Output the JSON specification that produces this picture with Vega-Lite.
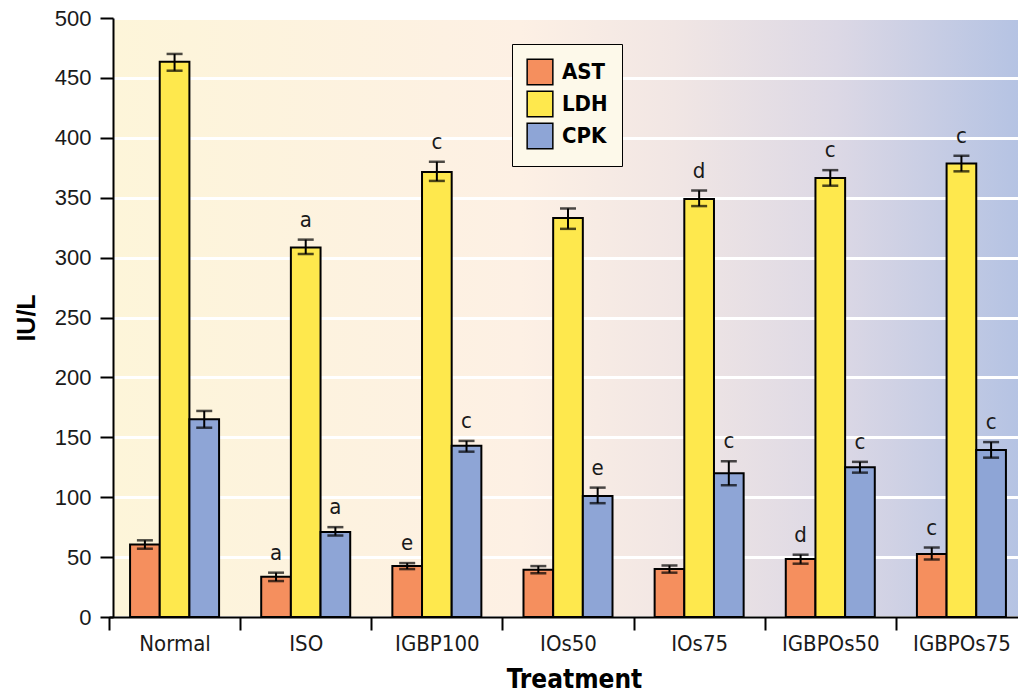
{
  "$schema": "https://vega.github.io/schema/vega-lite/v6.json",
  "autosize": "none",
  "width": 905,
  "height": 599,
  "padding": {"left": 113, "top": 18, "right": 0, "bottom": 79},
  "background": "white",
  "config": {
    "view": {
      "stroke": null,
      "fill": {"gradient": "linear", "x1": 0, "y1": 0, "x2": 1, "y2": 0,
        "stops": [
          {"offset": 0, "color": "#fdf5d9"},
          {"offset": 0.45, "color": "#fdf0e4"},
          {"offset": 0.62, "color": "#f1e6e4"},
          {"offset": 0.8, "color": "#dcd8e5"},
          {"offset": 1, "color": "#b5c3e3"}
        ]}
    }
  },
  "data": {"values": [
    {"treatment": "Normal", "enzyme": "AST", "value": 60.5, "lo": 57, "hi": 64, "letter": ""},
    {"treatment": "Normal", "enzyme": "LDH", "value": 463.5, "lo": 456, "hi": 470, "letter": ""},
    {"treatment": "Normal", "enzyme": "CPK", "value": 165, "lo": 158, "hi": 172, "letter": ""},
    {"treatment": "ISO", "enzyme": "AST", "value": 33.5, "lo": 30, "hi": 37, "letter": "a"},
    {"treatment": "ISO", "enzyme": "LDH", "value": 308.5, "lo": 303, "hi": 315, "letter": "a"},
    {"treatment": "ISO", "enzyme": "CPK", "value": 71, "lo": 68, "hi": 75, "letter": "a"},
    {"treatment": "IGBP100", "enzyme": "AST", "value": 42.5, "lo": 40, "hi": 45, "letter": "e"},
    {"treatment": "IGBP100", "enzyme": "LDH", "value": 371.5, "lo": 364, "hi": 380, "letter": "c"},
    {"treatment": "IGBP100", "enzyme": "CPK", "value": 143, "lo": 138, "hi": 147, "letter": "c"},
    {"treatment": "IOs50", "enzyme": "AST", "value": 39.5, "lo": 36.5, "hi": 42.5, "letter": ""},
    {"treatment": "IOs50", "enzyme": "LDH", "value": 333, "lo": 324, "hi": 341, "letter": ""},
    {"treatment": "IOs50", "enzyme": "CPK", "value": 101, "lo": 95, "hi": 108, "letter": "e"},
    {"treatment": "IOs75", "enzyme": "AST", "value": 40, "lo": 37, "hi": 43, "letter": ""},
    {"treatment": "IOs75", "enzyme": "LDH", "value": 349, "lo": 343, "hi": 356, "letter": "d"},
    {"treatment": "IOs75", "enzyme": "CPK", "value": 120, "lo": 110, "hi": 130, "letter": "c"},
    {"treatment": "IGBPOs50", "enzyme": "AST", "value": 48.5, "lo": 44.5, "hi": 52, "letter": "d"},
    {"treatment": "IGBPOs50", "enzyme": "LDH", "value": 366.5, "lo": 360, "hi": 373, "letter": "c"},
    {"treatment": "IGBPOs50", "enzyme": "CPK", "value": 125, "lo": 120.5, "hi": 129.5, "letter": "c"},
    {"treatment": "IGBPOs75", "enzyme": "AST", "value": 52.5, "lo": 48, "hi": 58, "letter": "c"},
    {"treatment": "IGBPOs75", "enzyme": "LDH", "value": 378.5, "lo": 372, "hi": 385, "letter": "c"},
    {"treatment": "IGBPOs75", "enzyme": "CPK", "value": 139.5, "lo": 133, "hi": 146, "letter": "c"}
  ]},
  "encoding": {
    "x": {
      "field": "treatment", "type": "nominal",
      "sort": ["Normal", "ISO", "IGBP100", "IOs50", "IOs75", "IGBPOs50", "IGBPOs75"],
      "scale": {"paddingInner": 0, "paddingOuter": 0, "range": [-4, 914]},
      "axis": {
        "title": "Treatment", "labelAngle": 0,
        "labelFont": "DejaVu Sans Condensed, sans-serif",
        "labelFontSize": 22, "labelColor": "#1a1a1a", "labelPadding": 3,
        "tickBand": "extent", "tickSize": 13, "tickColor": "black", "tickWidth": 2,
        "domainColor": "black", "domainWidth": 2,
        "titleFont": "DejaVu Sans Condensed, sans-serif", "titleX": 461,
        "titleFontSize": 26, "titleFontWeight": "bold", "titleColor": "black", "titlePadding": 12
      }
    },
    "xOffset": {"field": "enzyme", "type": "nominal", "sort": ["AST", "LDH", "CPK"], "scale": {"paddingInner": 0, "paddingOuter": 0.71}}
  },
  "layer": [
    {
      "mark": {"type": "bar", "stroke": "black", "strokeWidth": 2},
      "encoding": {
        "y": {
          "field": "value", "type": "quantitative",
          "scale": {"domain": [0, 500], "nice": false},
          "axis": {
            "title": "IU/L", "values": [0, 50, 100, 150, 200, 250, 300, 350, 400, 450, 500],
            "labelFont": "Liberation Sans", "labelFontSize": 22, "labelColor": "#1a1a1a", "labelPadding": 9,
            "tickSize": 13, "tickColor": "black", "tickWidth": 2,
            "domainColor": "black", "domainWidth": 2,
            "grid": true, "gridColor": "white", "gridWidth": 3,
            "titleFont": "Liberation Sans", "titleFontSize": 25, "titleFontWeight": "bold",
            "titleColor": "black", "titlePadding": 15
          }
        },
        "fill": {
          "field": "enzyme", "type": "nominal",
          "scale": {"domain": ["AST", "LDH", "CPK"], "range": ["#f58f5e", "#fee84d", "#8ea5d6"]},
          "legend": {
            "title": null, "orient": "none", "legendX": 399, "legendY": 26,
            "fillColor": "#fdf9ea", "strokeColor": "black",
            "padding": 14, "symbolType": "square", "symbolSize": 660,
            "symbolStrokeColor": "black", "symbolStrokeWidth": 1.5, "symbolOpacity": 1,
            "labelFont": "DejaVu Sans Condensed, sans-serif",
            "labelFontSize": 22, "labelFontWeight": "bold", "labelColor": "black",
            "rowPadding": 0, "labelOffset": 8
          }
        }
      }
    },
    {
      "mark": {"type": "rule", "color": "black", "strokeWidth": 2},
      "encoding": {
        "y": {"field": "lo", "type": "quantitative"},
        "y2": {"field": "hi"}
      }
    },
    {
      "mark": {"type": "tick", "color": "black", "thickness": 2.5, "size": 16},
      "encoding": {"y": {"field": "lo", "type": "quantitative"}}
    },
    {
      "mark": {"type": "tick", "color": "black", "thickness": 2.5, "size": 16},
      "encoding": {"y": {"field": "hi", "type": "quantitative"}}
    },
    {
      "mark": {"type": "text", "dy": -8, "baseline": "bottom", "font": "DejaVu Sans Condensed, sans-serif", "fontSize": 22, "color": "#1a1a1a"},
      "encoding": {
        "y": {"field": "hi", "type": "quantitative"},
        "text": {"field": "letter"}
      }
    }
  ]
}
